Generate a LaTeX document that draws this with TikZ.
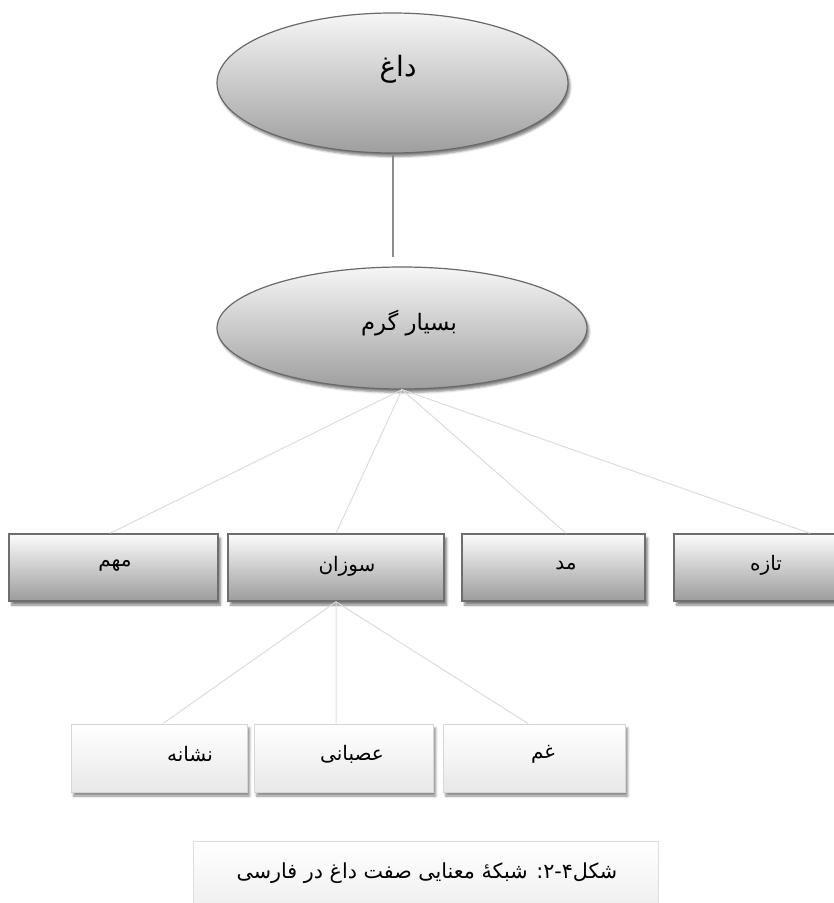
\documentclass[tikz,border=0pt]{standalone}
\usepackage{fontspec}
\usetikzlibrary{shapes.geometric,shadows.blur}
\TeXXeTstate=1
\newfontfamily\farsifont[Script=Arabic]{DejaVu Sans}
\newcommand{\fatxt}[1]{\beginR #1\endR}

\begin{document}
\begin{tikzpicture}[x=0.75pt,y=0.75pt,yscale=-1,xscale=1,
        oval/.style={ellipse, inner sep=0pt, line width=0.9pt,
            draw={rgb, 255:red, 105; green, 105; blue, 105},
            top color={rgb, 255:red, 246; green, 246; blue, 246},
            bottom color={rgb, 255:red, 158; green, 158; blue, 158},
            blur shadow={shadow xshift=1.5pt, shadow yshift=-2.5pt, shadow opacity=50}},
        darkbox/.style={rectangle, inner sep=0pt, minimum height=50.25pt, line width=1.1pt,
            draw={rgb, 255:red, 110; green, 110; blue, 110},
            top color={rgb, 255:red, 252; green, 252; blue, 252},
            bottom color={rgb, 255:red, 156; green, 156; blue, 156},
            blur shadow={shadow xshift=2pt, shadow yshift=-3pt, shadow opacity=50}},
        lightbox/.style={rectangle, inner sep=0pt, minimum height=51pt, line width=0.75pt,
            draw={rgb, 255:red, 214; green, 214; blue, 214},
            top color=white,
            bottom color={rgb, 255:red, 232; green, 232; blue, 232},
            blur shadow={shadow xshift=2pt, shadow yshift=-3pt, shadow opacity=45}},
        capbox/.style={rectangle, inner sep=0pt, minimum height=48pt, line width=0.75pt,
            draw={rgb, 255:red, 222; green, 222; blue, 222},
            top color=white,
            bottom color={rgb, 255:red, 240; green, 240; blue, 240}},
        link/.style={draw={rgb, 255:red, 220; green, 220; blue, 220}, line width=0.75pt},
        stem/.style={draw={rgb, 255:red, 140; green, 140; blue, 140}, line width=1.5pt},
        farsi/.style={inner sep=0.75pt, font=\farsifont\fontsize{15}{17}\selectfont},
        bigfarsi/.style={inner sep=0.75pt, font=\farsifont\fontsize{17}{19}\selectfont}
    ]
        \useasboundingbox (0,0) rectangle (833,903);

        %Shape: Ellipse [dagh]
        \draw (392.5,83) node [oval, minimum width=263.25pt, minimum height=105pt] (dagh) {};
        %Shape: Ellipse [garm]
        \draw (402,328) node [oval, minimum width=277.5pt, minimum height=91.5pt] (garm) {};

        %Shape: Rectangle [first row]
        \draw (113.5,567.5) node [darkbox, minimum width=156.75pt] (mohem) {};
        \draw (336,567.5) node [darkbox, minimum width=162pt] (soozan) {};
        \draw (553.5,567.5) node [darkbox, minimum width=137.25pt] (mod) {};
        \draw (766,567.5) node [darkbox, minimum width=138pt] (taze) {};

        %Shape: Rectangle [second row]
        \draw (159,758) node [lightbox, minimum width=132pt] (neshane) {};
        \draw (343.5,758) node [lightbox, minimum width=134.25pt] (asabani) {};
        \draw (534,758) node [lightbox, minimum width=136.5pt] (gham) {};

        %Shape: Rectangle [caption]
        \draw (425.5,873) node [capbox, minimum width=348.75pt] (caption) {};

        %Straight Lines
        \draw [stem, shorten >=6.75pt] (dagh.south) -- (dagh.south |- garm.north);
        \draw [link] (garm.south) -- ([xshift=-2.6pt]mohem.north);
        \draw [link] (garm.south) -- (soozan.north);
        \draw [link] (garm.south) -- ([xshift=9.4pt]mod.north);
        \draw [link] (garm.south) -- ([xshift=33pt]taze.north);
        \draw [link] (soozan.south) -- ([xshift=3pt]neshane.north);
        \draw [link] (soozan.south) -- ([xshift=-5.6pt]asabani.north);
        \draw [link] (soozan.south) -- ([xshift=-4.5pt]gham.north);

        % Text Node
        \draw (398,69) node [bigfarsi, font=\farsifont\fontsize{21}{23}\selectfont] (dagh-t) {\fatxt{داغ}};
        % Text Node
        \draw (409,323) node [bigfarsi] (garm-t) {\fatxt{بسیار گرم}};
        % Text Node
        \draw (115,566) node [farsi] (mohem-t) {\fatxt{مهم}};
        % Text Node
        \draw (347,566) node [farsi] (soozan-t) {\fatxt{سوزان}};
        % Text Node
        \draw (566,566) node [farsi] (mod-t) {\fatxt{مد}};
        % Text Node
        \draw (766,565) node [farsi] (taze-t) {\fatxt{تازه}};
        % Text Node
        \draw (190,754) node [farsi] (neshane-t) {\fatxt{نشانه}};
        % Text Node
        \draw (352,754) node [farsi] (asabani-t) {\fatxt{عصبانی}};
        % Text Node
        \draw (543,754) node [farsi] (gham-t) {\fatxt{غم}};
        % Text Node
        \draw (427,873) node [farsi, font=\farsifont\fontsize{15.5}{17}\selectfont] (caption-t) {\fatxt{شکل\kern0pt۴\kern0pt-\kern0pt۲\kern0pt: شبکهٔ معنایی صفت داغ در فارسی}};

\end{tikzpicture}
\end{document}
